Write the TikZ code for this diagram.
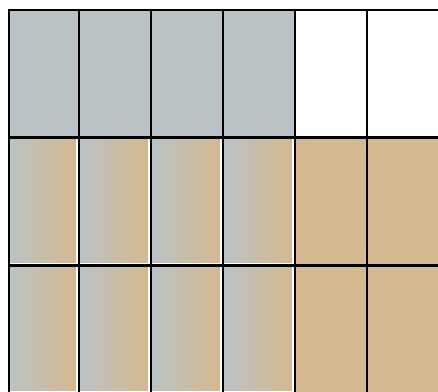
\documentclass[tikz,border=0pt]{standalone}
\definecolor{cgrey}{RGB}{186,194,197}
\definecolor{ctan}{RGB}{213,185,142}
\begin{document}
\begin{tikzpicture}[x=1pt,y=-1pt,
  gridline/.style={line width=2.3pt, draw=black},
  greycell/.style={fill=cgrey},
  tancell/.style={fill=ctan},
  mixcell/.style={left color=cgrey, right color=ctan, shading=axis}]
\useasboundingbox (0,0) rectangle (438,391);
\clip (0,0) rectangle (438,391);
% top row grey cells
\foreach \a/\b in {9.3/78.7,78.7/150.7,150.7/222.7,222.7/294.7}
  \fill[greycell] (\a,9.7) rectangle (\b,137.5);
% tan cells
\foreach \a/\b in {294.7/366.7,366.7/438.7}
  \foreach \c/\d in {137.5/265.5,265.5/393.5}
    \fill[tancell] (\a,\c) rectangle (\b,\d);
% gradient cells
\foreach \a/\b in {9.3/78.7,78.7/150.7,150.7/222.7,222.7/294.7}
  \foreach \c/\d in {137.5/265.5,265.5/393.5}
    \shade[mixcell] (\a,\c) rectangle ({\b-2.9},{\d-2.9});
% grid lines
\foreach \x in {9.3,78.7,150.7,222.7,294.7,366.7,438.7}
  \draw[gridline] (\x,8.55) -- (\x,400);
\foreach \y in {9.7,137.5,265.5,393.5}
  \draw[gridline] (8.15,\y) -- (450,\y);
\end{tikzpicture}
\end{document}
